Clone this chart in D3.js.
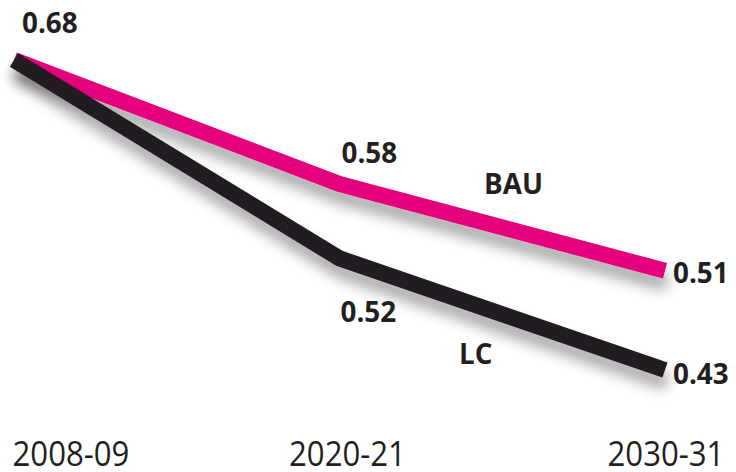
<!DOCTYPE html>
<html>
<head>
<meta charset="utf-8">
<script src="https://cdn.jsdelivr.net/npm/d3@7"></script>
<style>
  html, body { margin: 0; padding: 0; background: #fff; }
  svg { display: block; }
  text { font-family: "Open Sans", "DejaVu Sans", sans-serif; fill: #231f20; }
</style>
</head>
<body>
<svg id="chart" width="736" height="472"></svg>
<script>
// Periods along the x axis
const periods = ["2008-09", "2020-21", "2030-31"];
// Series values per period
const bauValues = [0.68, 0.58, 0.51];
const lcValues = [0.68, 0.52, 0.43];
const seriesNames = ["BAU", "LC"];
const seriesColors = ["#e5007d", "#231f20"];

const svg = d3.select("#chart");

const x = d3.scalePoint().domain(periods).range([14, 665]);
const y = d3.scaleLinear().domain([0.43, 0.68]).range([370, 60]);

// Soft grey shadow under each line
const defs = svg.append("defs");
const f = defs.append("filter").attr("id", "shadow")
  .attr("x", "-10%").attr("y", "-30%").attr("width", "120%").attr("height", "180%");
f.append("feDropShadow")
  .attr("dx", 2).attr("dy", 12).attr("stdDeviation", 7)
  .attr("flood-color", "#000").attr("flood-opacity", 0.35);

const line = d3.line()
  .x((d, i) => x(periods[i]))
  .y(d => y(d));

const series = [
  { name: seriesNames[0], values: bauValues, color: seriesColors[0] },
  { name: seriesNames[1], values: lcValues, color: seriesColors[1] }
];

svg.selectAll("path.series")
  .data(series)
  .join("path")
  .attr("class", "series")
  .attr("d", d => line(d.values))
  .attr("fill", "none")
  .attr("stroke", d => d.color)
  .attr("stroke-width", 16)
  .attr("stroke-linejoin", "round")
  .attr("stroke-linecap", "butt")
  .attr("filter", "url(#shadow)");

// Value labels
const valueFont = 29;
function boldLabel(txt, px, py) {
  svg.append("text")
    .attr("transform", `translate(${px},${py}) scale(0.96,1)`)
    .attr("font-size", valueFont)
    .attr("font-weight", 700)
    .text(txt);
}
const fmt = d3.format(".2f");
boldLabel(fmt(bauValues[0]), x(periods[0]) + 8, y(bauValues[0]) - 27);
boldLabel(fmt(bauValues[1]), x(periods[1]) + 2, y(bauValues[1]) - 21);
boldLabel(fmt(bauValues[2]), x(periods[2]) + 8, y(bauValues[2]) + 12);
boldLabel(fmt(lcValues[1]), x(periods[1]) + 1, y(lcValues[1]) + 64);
boldLabel(fmt(lcValues[2]), x(periods[2]) + 8, y(lcValues[2]) + 14);

// Series names
boldLabel(seriesNames[0], 484, 194);
boldLabel(seriesNames[1], 459, 364);

// Period labels along the bottom
const periodCenters = [71, x(periods[1]) + 8, x(periods[2]) + 1];
svg.selectAll("text.period")
  .data(periods)
  .join("text")
  .attr("class", "period")
  .attr("transform", (d, i) => `translate(${periodCenters[i]},466) scale(0.89,1)`)
  .attr("text-anchor", "middle")
  .attr("font-size", 35)
  .attr("font-weight", 400)
  .text(d => d);
</script>
</body>
</html>
